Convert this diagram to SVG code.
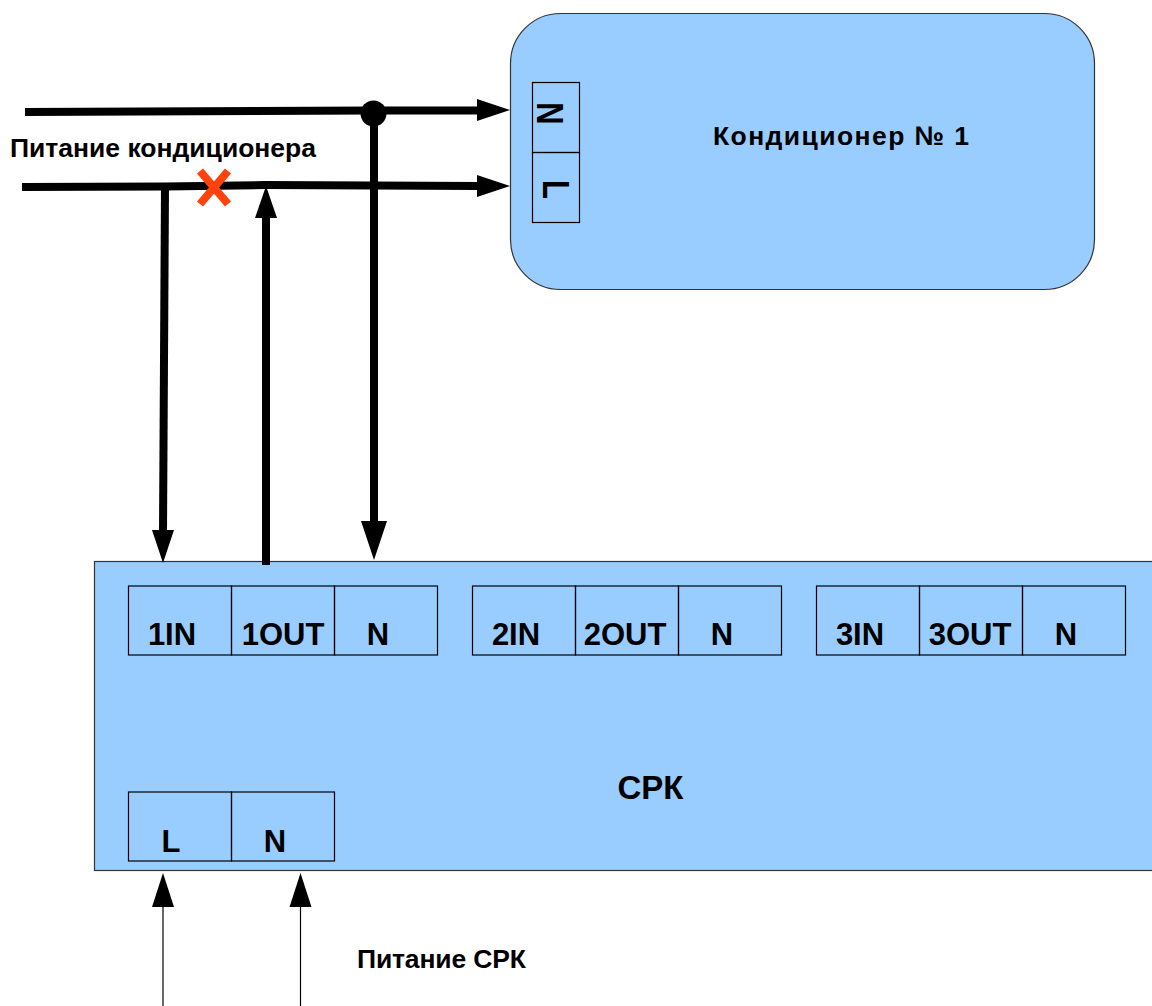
<svg xmlns="http://www.w3.org/2000/svg" width="1152" height="1006" viewBox="0 0 1152 1006">
<style>
text{font-family:"Liberation Sans",Arial,sans-serif;font-weight:700;fill:#000}
.t{font-size:31px;text-anchor:middle}
.b{font-size:26.500px}
.blk{fill:#99ccff;stroke:#333;stroke-width:1.2}
.c{fill:none;stroke:#000;stroke-width:1.2}
.w{fill:none;stroke:#000;stroke-width:8}
.h{fill:#000;stroke:none}
</style>
<rect width="1152" height="1006" fill="#fff"/>
<g id="conditioner">
<rect class="blk" x="510.500" y="13.500" width="584" height="276" rx="50" ry="50"/>
<text class="b" x="713" y="145" textLength="256" lengthAdjust="spacing">Кондиционер № 1</text>
</g>
<g id="terminal-N-cond">
<rect class="c" x="532.500" y="82.500" width="47" height="70"/>
<text class="t" transform="translate(537,113.500) rotate(90) scale(1,1.170)">N</text>
</g>
<g id="terminal-L-cond">
<rect class="c" x="532.500" y="152.500" width="47" height="70"/>
<text class="t" transform="translate(543,189.500) rotate(90) scale(1,1.170)">L</text>
</g>
<g id="srk">
<rect class="blk" x="94.500" y="561.500" width="1070" height="309"/>
<text class="t" x="650.500" y="799" style="font-size:33px">СРК</text>
</g>
<g id="srk-1IN"><rect class="c" x="128.500" y="586" width="103" height="69"/><text class="t" x="172" y="645">1IN</text></g>
<g id="srk-1OUT"><rect class="c" x="231.500" y="586" width="103" height="69"/><text class="t" x="283" y="645">1OUT</text></g>
<g id="srk-1N"><rect class="c" x="334.500" y="586" width="103" height="69"/><text class="t" x="378" y="645">N</text></g>
<g id="srk-2IN"><rect class="c" x="472.500" y="586" width="103" height="69"/><text class="t" x="516" y="645">2IN</text></g>
<g id="srk-2OUT"><rect class="c" x="575.500" y="586" width="103" height="69"/><text class="t" x="625" y="645">2OUT</text></g>
<g id="srk-2N"><rect class="c" x="678.500" y="586" width="103" height="69"/><text class="t" x="722" y="645">N</text></g>
<g id="srk-3IN"><rect class="c" x="816.500" y="586" width="103" height="69"/><text class="t" x="860" y="645">3IN</text></g>
<g id="srk-3OUT"><rect class="c" x="919.500" y="586" width="103" height="69"/><text class="t" x="970" y="645">3OUT</text></g>
<g id="srk-3N"><rect class="c" x="1022.500" y="586" width="103" height="69"/><text class="t" x="1066" y="645">N</text></g>
<g id="srk-L"><rect class="c" x="128.500" y="792" width="103" height="69"/><text class="t" x="171" y="852">L</text></g>
<g id="srk-N"><rect class="c" x="231.500" y="792" width="103" height="69"/><text class="t" x="275" y="852">N</text></g>
<g id="connectors">
<path class="w" d="M25 112L373 110.500L478 110.500"/>
<path class="h" d="M477 99L510 110L477 121Z"/>
<path class="w" d="M22 187L165 186.500L265 185L478 186"/>
<path class="h" d="M477 175L510 186L477 197Z"/>
<path class="w" d="M165 187L163 532"/>
<path class="h" d="M152 530L174 530L163 563Z"/>
<path class="w" d="M266 565L266 216"/>
<path class="h" d="M255 218L277 218L266 186Z"/>
<path class="w" d="M374 113L374 522"/>
<path class="h" d="M361 521L387 521L374 560Z"/>
<circle class="h" cx="373.500" cy="113.500" r="13"/>
<path d="M163 1006L163 905" fill="none" stroke="#000" stroke-width="1.200"/>
<path class="h" d="M152 907L174 907L163 873Z"/>
<path d="M300.500 1006L300.500 905" fill="none" stroke="#000" stroke-width="1.200"/>
<path class="h" d="M289.500 907L311.500 907L300.500 873Z"/>
<path d="M200 171L228 204M228 171L200 204" fill="none" stroke="#ff420e" stroke-width="8"/>
</g>
<text class="b" x="10" y="157" textLength="306" lengthAdjust="spacing">Питание кондиционера</text>
<text class="b" x="357" y="968" textLength="169" lengthAdjust="spacing">Питание СРК</text>
</svg>
